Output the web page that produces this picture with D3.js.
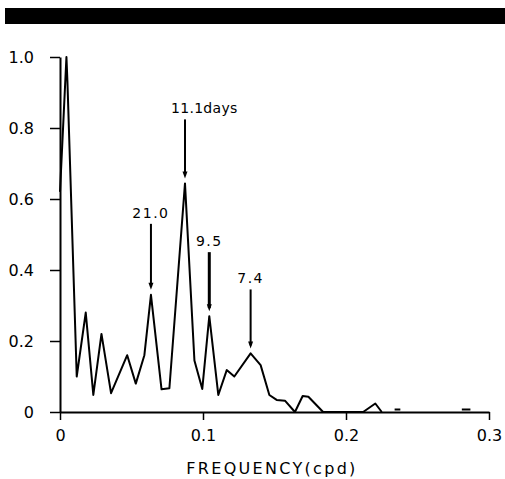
<!DOCTYPE html>
<html>
<head>
<meta charset="utf-8">
<script src="https://cdn.jsdelivr.net/npm/d3@7"></script>
<style>
  body { margin: 0; background: #fff; }
  text { font-family: "DejaVu Sans", sans-serif; fill: #000; }
</style>
</head>
<body>
<script>
// spectrum
var freq  = [0, 0.0045, 0.0052, 0.0117, 0.018, 0.0233, 0.029, 0.0357, 0.047, 0.053, 0.059, 0.0636,
             0.071, 0.0765, 0.0874, 0.094, 0.0995, 0.1044, 0.1107, 0.1166, 0.1219, 0.1333, 0.1403,
             0.1464, 0.1515, 0.1573, 0.1643, 0.1697, 0.1737, 0.184, 0.212, 0.2205, 0.225,
             0.23, 0.234, 0.238, 0.26, 0.281, 0.287]
var power = [0.62, 1.0, 0.93, 0.10, 0.28, 0.048, 0.22, 0.053, 0.16, 0.08, 0.16, 0.33,
             0.064, 0.067, 0.644, 0.145, 0.065, 0.27, 0.048, 0.118, 0.10, 0.165, 0.132,
             0.048, 0.034, 0.032, 0, 0.045, 0.043, 0, 0, 0.024, 0,
             null, 0.007, 0.007, null, 0.007, 0.007]

var xTicks = [0, 0.1, 0.2, 0.3]
var yTicks = [0, 0.2, 0.4, 0.6, 0.8, 1.0]

var peakLabels = ["21.0", "11.1days", "9.5", "7.4"]
var peakFreq   = [0.0636, 0.0874, 0.1044, 0.1333]
var peakPower  = [0.33, 0.644, 0.27, 0.165]

var xTitle = "FREQUENCY(cpd)"

var svg = d3.select("body")
            .append("svg")
            .attr("width", 505)
            .attr("height", 479)

// black strip on top of the scan
svg.append("rect")
    .attr("x", 5).attr("y", 8)
    .attr("width", 500).attr("height", 16)
    .attr("fill", "#000")

var x = d3.scaleLinear().domain([0, 0.3]).range([60, 489])
var y = d3.scaleLinear().domain([0, 1]).range([412, 57])

var fmt = d => d === 0 ? "0" : d3.format(".1f")(d)

var gx = svg.append("g")
    .attr("transform", "translate(0,412)")
    .call(d3.axisBottom(x).tickValues(xTicks).tickFormat(fmt)
            .tickSize(8).tickSizeOuter(0).tickPadding(10))

var gy = svg.append("g")
    .attr("transform", "translate(60,0)")
    .call(d3.axisLeft(y).tickValues(yTicks).tickFormat(fmt)
            .tickSize(10).tickSizeOuter(0).tickPadding(16))

svg.selectAll(".domain").attr("stroke", "#000").attr("stroke-width", 2)
svg.selectAll(".tick line").attr("stroke", "#000").attr("stroke-width", 1.5)
svg.selectAll(".tick text")
    .style("font-family", "DejaVu Sans")
    .style("font-size", "16px")
    .attr("fill", "#000")

// the curve
var pts = freq.map((f, i) => ({f: f, v: power[i]}))
var line = d3.line()
    .defined(d => d.v != null)
    .x(d => x(d.f))
    .y(d => y(d.v))

svg.append("path")
    .datum(pts)
    .attr("d", line)
    .attr("fill", "none")
    .attr("stroke", "#000")
    .attr("stroke-width", 2)
    .attr("stroke-linejoin", "round")

// peak labels with arrows
var extra = [7, 0, 0, 0]
var ann = svg.selectAll(".ann")
    .data(peakLabels)
    .enter()
    .append("g")
    .attr("class", "ann")

ann.append("line")
    .attr("x1", (d, i) => x(peakFreq[i]))
    .attr("x2", (d, i) => x(peakFreq[i]))
    .attr("y1", (d, i) => y(peakPower[i]) - 64 - extra[i])
    .attr("y2", (d, i) => y(peakPower[i]) - 8)
    .attr("stroke", "#000")
    .attr("stroke-width", (d, i) => i == 2 ? 3 : 2)

ann.append("path")
    .attr("d", (d, i) => {
        var px = x(peakFreq[i]), py = y(peakPower[i]) - 5
        return "M" + (px - 2.5) + "," + (py - 7) + "L" + (px + 2.5) + "," + (py - 7) + "L" + px + "," + py + "Z"
    })
    .attr("fill", "#000")

ann.append("text")
    .attr("x", (d, i) => i == 1 ? x(peakFreq[i]) - 14 : x(peakFreq[i]))
    .attr("y", (d, i) => y(peakPower[i]) - 70 - extra[i])
    .attr("text-anchor", (d, i) => i == 1 ? "start" : "middle")
    .style("font-size", "14px")
    .style("letter-spacing", (d, i) => i == 1 ? "0.3px" : "1.5px")
    .text(d => d)

svg.append("text")
    .attr("x", 272)
    .attr("y", 474)
    .attr("text-anchor", "middle")
    .style("font-size", "16px")
    .style("letter-spacing", "2.3px")
    .text(xTitle)
</script>
</body>
</html>
